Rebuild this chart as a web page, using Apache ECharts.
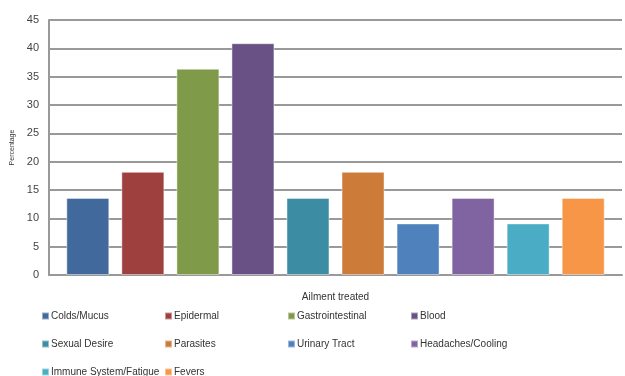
<!DOCTYPE html>
<html>
<head>
<meta charset="utf-8">
<script src="https://cdn.jsdelivr.net/npm/echarts@6/dist/echarts.min.js"></script>
<style>
  html, body { margin: 0; padding: 0; background: #fff; }
  #chart { width: 625px; height: 376px; }
</style>
</head>
<body>
<div id="chart"></div>
<script>
// ailments, one bar (series) per ailment
const ailments = ['Colds/Mucus', 'Epidermal', 'Gastrointestinal', 'Blood',
  'Sexual Desire', 'Parasites', 'Urinary Tract', 'Headaches/Cooling',
  'Immune System/Fatigue', 'Fevers']
const values = [13.6, 18.2, 36.4, 40.9, 13.6, 18.2, 9.1, 13.6, 9.1, 13.6]
const colors = ['#41699c', '#9e413e', '#7f9a48', '#695185', '#3c8da3',
  '#cc7b38', '#4f81bd', '#8064a2', '#4bacc6', '#f79646']
const yTicks = { min: 0, max: 45, step: 5 }

const font = "'Liberation Sans Narrow', 'Liberation Sans', Arial, sans-serif"
const chart = echarts.init(document.getElementById('chart'))

// one legend per item, laid out 4 to a row
const legends = ailments.map((name, i) => ({
  data: [name],
  left: 41 + (i % 4) * 123,
  top: 311 + Math.floor(i / 4) * 28,
  itemWidth: 7,
  itemHeight: 7,
  itemGap: 0,
  icon: 'rect',
  selectedMode: false,
  padding: 0,
  textStyle: { fontSize: 10, color: '#333', fontFamily: font, padding: [0, 0, 0, -3] }
}))

chart.setOption({
  animation: false,
  color: colors,
  grid: { left: 49, right: 3, top: 20, bottom: 101 },
  legend: legends,
  xAxis: {
    type: 'category',
    data: [''],
    name: 'Ailment treated',
    nameLocation: 'middle',
    nameGap: 17,
    nameTextStyle: { fontSize: 10, color: '#333', fontFamily: font },
    axisTick: { show: false },
    axisLabel: { show: false },
    axisLine: { lineStyle: { color: '#999', width: 2 } }
  },
  yAxis: {
    type: 'value',
    min: yTicks.min,
    max: yTicks.max,
    interval: yTicks.step,
    name: 'Percentage',
    nameLocation: 'middle',
    nameRotate: 90,
    nameGap: 32,
    nameTextStyle: { fontSize: 7, color: '#333', fontFamily: font },
    axisLine: { show: true, lineStyle: { color: '#999', width: 2 } },
    axisTick: { show: false },
    axisLabel: { fontSize: 11, color: '#444', margin: 10, fontFamily: "'Liberation Sans', Arial, sans-serif" },
    splitLine: { lineStyle: { color: '#999', width: 2 } }
  },
  series: ailments.map((name, i) => ({
    name: name,
    type: 'bar',
    data: [values[i]],
    barWidth: 43,
    barGap: '28%',
    itemStyle: { borderColor: 'rgba(255,255,255,0.45)', borderWidth: 1 }
  }))
})
</script>
</body>
</html>
